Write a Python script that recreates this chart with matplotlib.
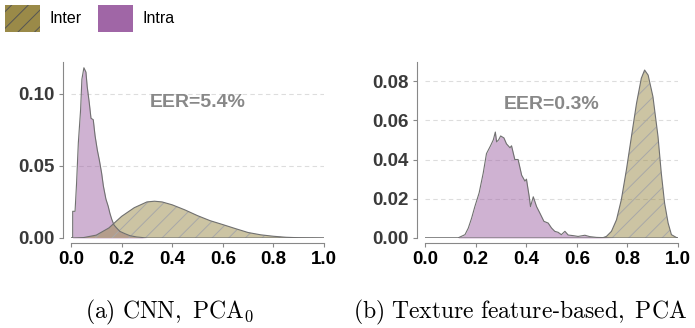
import matplotlib
matplotlib.use("Agg")
import matplotlib.pyplot as plt
import numpy as np
from matplotlib.patches import Patch

plt.rcParams["font.family"] = ["Liberation Sans", "DejaVu Sans"]
plt.rcParams["mathtext.fontset"] = "cm"
plt.rcParams["hatch.color"] = "#a8a8a8"
plt.rcParams["hatch.linewidth"] = 0.7

INTER_COLOR = "#9a8a48"
INTRA_COLOR = "#a066a6"

# (a) CNN, PCA_0
cnn_intra_x = [0.0, 0.0066, 0.0067, 0.016, 0.022, 0.029, 0.038, 0.043, 0.051, 0.059, 0.064,
               0.072, 0.079, 0.088, 0.095, 0.104, 0.112, 0.121, 0.128, 0.138, 0.147,
               0.154, 0.161, 0.170, 0.180, 0.193, 0.213, 0.233, 0.26, 0.30, 1.0]
cnn_intra_y = [0.0, 0.0, 0.0185, 0.0185, 0.038, 0.066, 0.089, 0.110, 0.118, 0.115, 0.105,
               0.094, 0.083, 0.082, 0.071, 0.061, 0.054, 0.045, 0.036, 0.027, 0.022,
               0.017, 0.013, 0.009, 0.007, 0.0046, 0.003, 0.0016, 0.0007, 0.0, 0.0]
cnn_inter_x = [0.0, 0.05, 0.10, 0.15, 0.20, 0.25, 0.30, 0.33, 0.36, 0.40, 0.45, 0.50,
               0.55, 0.60, 0.65, 0.70, 0.75, 0.80, 0.85, 0.90, 0.95, 1.0]
cnn_inter_y = [0.0, 0.0003, 0.002, 0.007, 0.015, 0.021, 0.025, 0.0255, 0.025, 0.023, 0.0195,
               0.0155, 0.012, 0.0093, 0.0065, 0.0038, 0.0022, 0.0012, 0.0005, 0.0002, 0.0001, 0.0]

# (b) Texture feature-based, PCA
tex_intra_x = [0.0, 0.13, 0.138, 0.158, 0.171, 0.184, 0.197, 0.214, 0.230, 0.243, 0.259,
               0.270, 0.278, 0.283, 0.291, 0.299, 0.312, 0.322, 0.336, 0.342, 0.355,
               0.368, 0.382, 0.395, 0.401, 0.412, 0.417, 0.428, 0.441, 0.454, 0.470,
               0.487, 0.500, 0.513, 0.526, 0.539, 0.553, 0.566, 0.586, 0.605, 0.632,
               0.651, 0.678, 0.704, 0.75, 1.0]
tex_intra_y = [0.0, 0.0, 0.0005, 0.0017, 0.005, 0.010, 0.016, 0.023, 0.033, 0.043, 0.047,
               0.050, 0.054, 0.049, 0.050, 0.052, 0.051, 0.048, 0.046, 0.047, 0.040,
               0.040, 0.032, 0.029, 0.030, 0.021, 0.016, 0.021, 0.016, 0.0127, 0.0085,
               0.0076, 0.0051, 0.0034, 0.0029, 0.0017, 0.0034, 0.0015, 0.0012, 0.0008, 0.0014,
               0.0007, 0.0003, 0.0002, 0.0, 0.0]
tex_inter_x = [0.0, 0.70, 0.704, 0.717, 0.737, 0.757, 0.776, 0.796, 0.816, 0.836, 0.855,
               0.868, 0.882, 0.901, 0.921, 0.934, 0.947, 0.961, 0.974, 0.993, 1.0]
tex_inter_y = [0.0, 0.0, 0.0002, 0.0008, 0.0034, 0.0093, 0.0195, 0.0347, 0.0517, 0.0686, 0.0814,
               0.0856, 0.083, 0.072, 0.0517, 0.033, 0.0178, 0.0076, 0.0017, 0.0003, 0.0]

panels = [
    dict(intra=(cnn_intra_x, cnn_intra_y), inter=(cnn_inter_x, cnn_inter_y),
         ylim=0.122, yticks=[0.0, 0.05, 0.10], eer="EER=5.4%", eer_y=0.094,
         rect=[71 / 695, 90 / 328, 253 / 695, 176 / 328]),
    dict(intra=(tex_intra_x, tex_intra_y), inter=(tex_inter_x, tex_inter_y),
         ylim=0.0897, yticks=[0.0, 0.02, 0.04, 0.06, 0.08], eer="EER=0.3%", eer_y=0.068,
         rect=[425 / 695, 90 / 328, 253 / 695, 176 / 328]),
]
captions = [r"$\mathrm{(a)\ CNN,\ PCA_0}$", r"$\mathrm{(b)\ Texture\ feature}$-$\mathrm{based,\ PCA}$"]
caption_x = [85 / 695, 353 / 695]
xticks = [0.0, 0.2, 0.4, 0.6, 0.8, 1.0]

fig = plt.figure(figsize=(6.95, 3.28), dpi=100)

for p, cap, cx in zip(panels, captions, caption_x):
    ax = fig.add_axes(p["rect"])

    # spines first: set_position resets the ticks
    for s in ("top", "right"):
        ax.spines[s].set_visible(False)
    ax.spines["left"].set_position(("outward", 5.5))
    ax.spines["bottom"].set_position(("outward", 3.6))
    for s in ("left", "bottom"):
        ax.spines[s].set_color("#888888")
        ax.spines[s].set_linewidth(0.8)

    # gridlines
    for yt in p["yticks"][1:]:
        ax.axhline(yt, color="#dddddd", lw=0.8, ls=(0, (4, 3)), zorder=0)
    ix, iy = p["intra"]
    ex, ey = p["inter"]
    ax.fill_between(ix, iy, color=INTRA_COLOR, alpha=0.5, lw=0, zorder=2)
    ax.plot(ix, iy, color="#707070", lw=0.8, zorder=3)
    ax.fill_between(ex, ey, facecolor=INTER_COLOR, alpha=0.5, hatch="//", lw=0, zorder=2)
    ax.plot(ex, ey, color="#707070", lw=0.8, zorder=3)

    ax.set_xlim(0, 1)
    ax.set_ylim(0, p["ylim"])
    ax.spines["left"].set_bounds(0, p["ylim"])
    ax.spines["bottom"].set_bounds(0, 1)
    ax.set_xticks(xticks)
    ax.set_xticklabels([f"{v:.1f}" for v in xticks], fontsize=13.5, fontweight="bold", color="black")
    ax.set_yticks(p["yticks"])
    ax.set_yticklabels([f"{v:.2f}" for v in p["yticks"]], fontsize=13.5, fontweight="bold",
                       color="#3a3a3a")
    ax.tick_params(axis="both", length=3, width=0.8, color="#888888", pad=3)

    ax.text(0.5, p["eer_y"], p["eer"], ha="center", va="center",
            fontsize=14, fontweight="bold", color="#888888")

    fig.text(cx, 10 / 328, cap, ha="left", va="baseline", fontsize=17)

handles = [Patch(facecolor=INTER_COLOR, hatch="//", edgecolor="#555555", lw=0, label="Inter"),
           Patch(facecolor=INTRA_COLOR, lw=0, label="Intra")]
fig.legend(handles=handles, loc="upper left", bbox_to_anchor=(0.0, 1.0), ncol=2,
           frameon=False, fontsize=11.5, handlelength=2.2, handleheight=2.2,
           handletextpad=0.6, columnspacing=1.0, borderaxespad=0.2, borderpad=0.1)

fig.savefig("out.png", dpi=100)
